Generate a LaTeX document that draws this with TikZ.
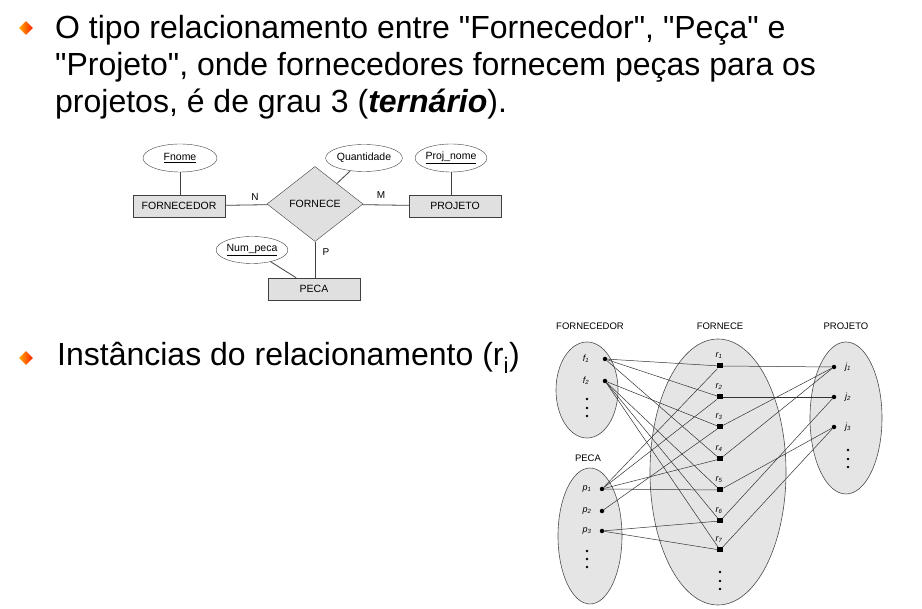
\documentclass[tikz,border=0pt]{standalone}
\usepackage{fontspec}
\setmainfont{Liberation Sans}[Ligatures=TeXOff]
\usetikzlibrary{shapes.geometric}

\tikzset{
  texto/.style={inner sep=0pt, anchor=base west, font=\fontsize{32}{37}\selectfont},
  marcador/.style={diamond, inner sep=0pt, minimum size=14pt, left color=orange!70!yellow, right color=red!75!orange},
  entidade/.style={draw=black!75, fill=black!12, minimum width=92pt, minimum height=22pt, inner sep=0pt, font=\fontsize{10.5}{12}\selectfont},
  atributo/.style={draw=black!75, fill=white, ellipse, inner sep=0pt, font=\fontsize{10.5}{12}\selectfont},
  relac/.style={draw=black!75, fill=black!12, diamond, minimum width=96pt, minimum height=75pt, inner sep=0pt, font=\fontsize{10.5}{12}\selectfont},
  ligacao/.style={draw=black!75, line width=0.8pt},
  card/.style={inner sep=1pt, font=\fontsize{10}{12}\selectfont},
  conj/.style={draw=black!70, fill=black!10, line width=0.6pt},
  titulo/.style={inner sep=0pt, font=\fontsize{9.5}{11}\selectfont},
  elem/.style={circle, fill=black, inner sep=0pt, minimum size=4.5pt},
  inst/.style={rectangle, fill=black, inner sep=0pt, minimum width=6pt, minimum height=5pt},
  rot/.style={inner sep=0pt, font=\fontsize{9}{10}\selectfont\itshape},
  aresta/.style={draw=black!80, line width=0.5pt}
}

\begin{document}
\begin{tikzpicture}[x=1pt,y=-1pt]
\useasboundingbox (0,0) rectangle (922,609);

%bullets and text
\node[marcador] (b1) at (26,28) {};
\node[marcador] (b2) at (26,358) {};
\node[texto] (l1) at (55,39) {O tipo relacionamento entre "Fornecedor", "Peça" e};
\node[texto] (l2) at (55,76) {"Projeto", onde fornecedores fornecem peças para os};
\node[texto] (l3) at (55,113) {projetos, é de grau 3 (\textbf{\textit{ternário}}).};
\node[texto] (l4) at (57,366) {Instâncias do relacionamento (r\textsubscript{i})};

%ER diagram
\node[atributo, minimum width=74pt, minimum height=28pt] (fnome) at (180,158) {\underline{Fnome}};
\node[entidade] (fornecedor) at (179,206) {FORNECEDOR};
\node[relac] (fornece) at (315,204) {FORNECE};
\node[atributo, minimum width=68pt, minimum height=27pt] (qtd) at (364,158) {Quantidade};
\node[atributo, minimum width=66pt, minimum height=28pt] (projnome) at (451,158) {\underline{Proj\_nome}};
\node[entidade] (projeto) at (455,206) {PROJETO};
\node[atributo, minimum width=70pt, minimum height=27pt] (numpeca) at (252,250) {\underline{Num\_peca}};
\node[entidade] (peca) at (314,289) {PECA};

%ER connectors
\draw[ligacao] (fnome.south) -- (fnome.south |- fornecedor.north);
\draw[ligacao] (projnome.south) -- (projnome.south |- projeto.north);
\draw[ligacao] (qtd) -- (fornece);
\draw[ligacao] (numpeca) -- (peca);
\draw[ligacao] (fornecedor) -- (fornece);
\draw[ligacao] (fornece) -- (projeto);
\draw[ligacao] (fornece.south) -- (fornece.south |- peca.north);

%cardinality labels
\node[card] (cn) at (255,197) {N};
\node[card] (cm) at (381,195) {M};
\node[card] (cp) at (326,252) {P};

%instance sets
\draw[conj] (587,390) ellipse (31 and 48);
\draw[conj] (590,536) ellipse (32 and 68);
\draw[conj] (718,472) ellipse (68 and 133);
\draw[conj] (846,418) ellipse (36 and 76);

\node[titulo] (tforn) at (590,326) {FORNECEDOR};
\node[titulo] (tpeca) at (588,458) {PECA};
\node[titulo] (tfornece) at (720,326) {FORNECE};
\node[titulo] (tproj) at (846,326) {PROJETO};

%elements
\foreach \n/\y in {1/359,2/381}
  \node[elem] (f\n) at (605,\y) {};
\foreach \n/\y in {1/359,2/381}
  \node[rot] (lf\n) at (586,\y) {f\textsubscript{\n}};
\foreach \n/\y in {1/489,2/511,3/531}
  \node[elem] (p\n) at (602,\y) {};
\foreach \n/\y in {1/489,2/511,3/531}
  \node[rot] (lp\n) at (587,\y) {p\textsubscript{\n}};
\foreach \n/\y in {1/367,2/397,3/427}
  \node[elem] (j\n) at (834,\y) {};
\foreach \n/\y in {1/367,2/397,3/427}
  \node[rot] (lj\n) at (848,\y) {j\textsubscript{\n}};
\foreach \n/\y in {1/366,2/397,3/427,4/459,5/490,6/521,7/550}
  \node[inst] (r\n) at (720,\y) {};
\foreach \n/\y in {1/366,2/397,3/427,4/459,5/490,6/521,7/550}
  \node[rot] (lr\n) at (719,\y-10) {r\textsubscript{\n}};

%vertical dots
\foreach \x/\y in {587/399,587/408,587/416,587/551,587/559,587/567,720/572,720/581,720/589,848/450,848/459,848/467}
  \fill (\x,\y) circle (1.3);

%instance connectors
\foreach \a/\b in {f1/r1,f1/r2,f2/r3,f1/r4,f2/r5,f2/r6,f2/r7,p1/r1,p1/r2,p2/r3,p1/r4,p1/r5,p3/r6,p3/r7,r1/j1,r2/j2,r3/j1,r4/j1,r5/j3,r6/j2,r7/j3}
  \draw[aresta] (\a) -- (\b);
\end{tikzpicture}
\end{document}
